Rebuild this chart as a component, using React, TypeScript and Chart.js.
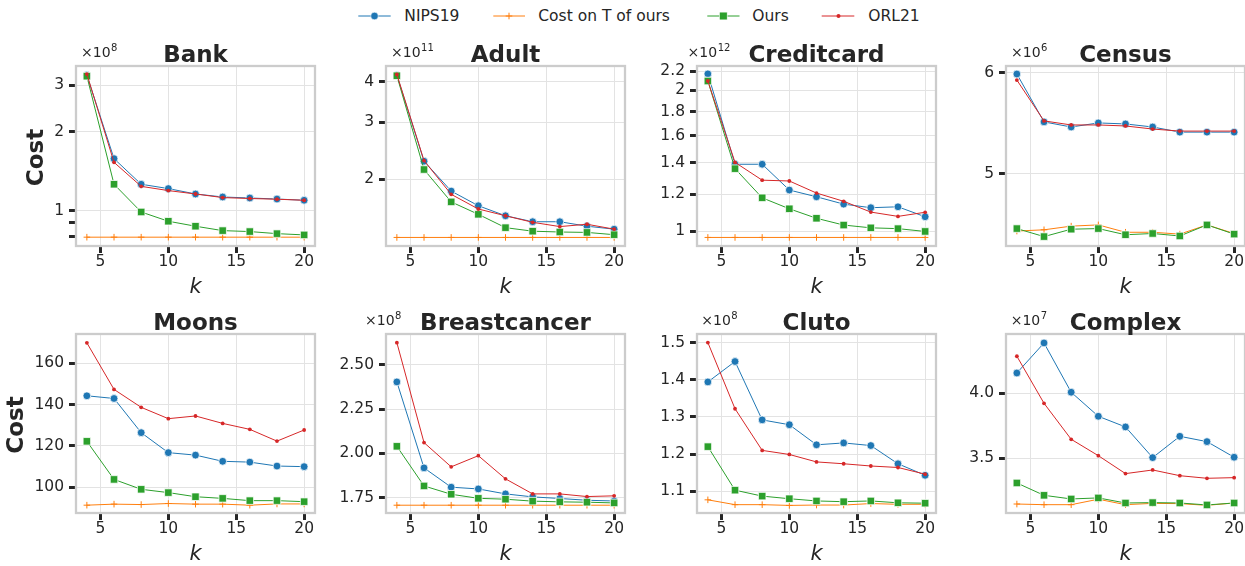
import React, { useEffect, useRef } from "react";
import { Chart, registerables } from "chart.js";

Chart.register(...registerables);

// ---------------- data ----------------
const K = [4, 6, 8, 10, 12, 14, 16, 18, 20];
const X_TICKS = [5, 10, 15, 20];
const SERIES_NAMES = ["NIPS19", "Cost on T of ours", "Ours", "ORL21"];

// Bank (x1e8)
const BANK_NIPS = [3.28, 1.58, 1.263, 1.216, 1.16, 1.13, 1.12, 1.11, 1.098];
const BANK_COST = [0.795, 0.795, 0.795, 0.795, 0.795, 0.795, 0.795, 0.795, 0.795];
const BANK_OURS = [3.25, 1.263, 0.991, 0.914, 0.875, 0.842, 0.835, 0.82, 0.811];
const BANK_ORL = [3.31, 1.53, 1.24, 1.195, 1.16, 1.124, 1.115, 1.108, 1.098];
const BANK_TICKS = [0.8, 0.9, 1, 2, 3];
const BANK_TICK_LABELS = ["", "", "1", "2", "3"];

// Adult (x1e11)
const ADULT_NIPS = [4.19, 2.27, 1.836, 1.654, 1.54, 1.476, 1.476, 1.43, 1.4];
const ADULT_COST = [1.32, 1.32, 1.32, 1.32, 1.32, 1.32, 1.32, 1.32, 1.32];
const ADULT_OURS = [4.17, 2.14, 1.7, 1.556, 1.415, 1.38, 1.372, 1.368, 1.346];
const ADULT_ORL = [4.21, 2.28, 1.794, 1.616, 1.54, 1.47, 1.426, 1.45, 1.4];
const ADULT_TICKS = [2, 3, 4];
const ADULT_TICK_LABELS = ["2", "3", "4"];

// Creditcard (x1e12)
const CREDIT_NIPS = [2.17, 1.39, 1.39, 1.224, 1.184, 1.142, 1.122, 1.127, 1.073];
const CREDIT_COST = [0.969, 0.969, 0.969, 0.969, 0.969, 0.969, 0.969, 0.969, 0.969];
const CREDIT_OURS = [2.095, 1.36, 1.178, 1.116, 1.065, 1.03, 1.016, 1.012, 0.998];
const CREDIT_ORL = [2.095, 1.403, 1.285, 1.28, 1.206, 1.158, 1.098, 1.075, 1.097];
const CREDIT_TICKS = [1, 1.2, 1.4, 1.6, 1.8, 2, 2.2];
const CREDIT_TICK_LABELS = ["1", "1.2", "1.4", "1.6", "1.8", "2", "2.2"];

// Census (x1e6)
const CENSUS_NIPS = [5.985, 5.49, 5.44, 5.48, 5.47, 5.44, 5.39, 5.39, 5.39];
const CENSUS_COST = [4.51, 4.52, 4.55, 4.56, 4.5, 4.5, 4.485, 4.56, 4.49];
const CENSUS_OURS = [4.53, 4.465, 4.525, 4.53, 4.48, 4.49, 4.47, 4.56, 4.485];
const CENSUS_ORL = [5.92, 5.5, 5.46, 5.46, 5.45, 5.42, 5.4, 5.4, 5.4];
const CENSUS_TICKS = [5, 6];
const CENSUS_TICK_LABELS = ["5", "6"];

// Moons
const MOONS_NIPS = [144.3, 143, 126.4, 116.7, 115.5, 112.5, 112.1, 110.2, 109.9];
const MOONS_COST = [91.2, 91.7, 91.5, 92.0, 91.7, 91.7, 91.2, 91.8, 91.8];
const MOONS_OURS = [122.2, 103.7, 98.9, 97.3, 95.3, 94.5, 93.4, 93.4, 92.9];
const MOONS_ORL = [170, 147.4, 138.7, 133.2, 134.5, 130.9, 128, 122.3, 127.7];
const MOONS_TICKS = [100, 120, 140, 160];
const MOONS_TICK_LABELS = ["100", "120", "140", "160"];

// Breastcancer (x1e8)
const BREAST_NIPS = [2.404, 1.918, 1.809, 1.799, 1.771, 1.754, 1.745, 1.735, 1.731];
const BREAST_COST = [1.707, 1.707, 1.707, 1.707, 1.707, 1.707, 1.707, 1.707, 1.707];
const BREAST_OURS = [2.04, 1.816, 1.769, 1.746, 1.741, 1.73, 1.726, 1.724, 1.72];
const BREAST_ORL = [2.626, 2.061, 1.924, 1.987, 1.856, 1.771, 1.771, 1.756, 1.76];
const BREAST_TICKS = [1.75, 2.0, 2.25, 2.5];
const BREAST_TICK_LABELS = ["1.75", "2.00", "2.25", "2.50"];

// Cluto (x1e8)
const CLUTO_NIPS = [1.394, 1.449, 1.292, 1.279, 1.225, 1.23, 1.223, 1.174, 1.143];
const CLUTO_COST = [1.077, 1.064, 1.064, 1.062, 1.063, 1.063, 1.067, 1.065, 1.065];
const CLUTO_OURS = [1.22, 1.103, 1.087, 1.08, 1.074, 1.072, 1.074, 1.069, 1.068];
const CLUTO_ORL = [1.5, 1.322, 1.21, 1.199, 1.179, 1.174, 1.168, 1.164, 1.146];
const CLUTO_TICKS = [1.1, 1.2, 1.3, 1.4, 1.5];
const CLUTO_TICK_LABELS = ["1.1", "1.2", "1.3", "1.4", "1.5"];

// Complex (x1e7)
const COMPLEX_NIPS = [4.156, 4.387, 4.008, 3.823, 3.741, 3.505, 3.669, 3.628, 3.508];
const COMPLEX_COST = [3.148, 3.143, 3.143, 3.185, 3.143, 3.153, 3.151, 3.138, 3.156];
const COMPLEX_OURS = [3.31, 3.215, 3.187, 3.195, 3.156, 3.159, 3.156, 3.141, 3.156];
const COMPLEX_ORL = [4.285, 3.923, 3.646, 3.52, 3.382, 3.41, 3.366, 3.346, 3.351];
const COMPLEX_TICKS = [3.5, 4.0];
const COMPLEX_TICK_LABELS = ["3.5", "4.0"];

type PanelDef = {
  title: string;
  exp: number | null;
  log: boolean;
  min: number;
  max: number;
  ticks: number[];
  labels: string[];
  series: number[][];
};

const PANELS: PanelDef[] = [
  { title: "Bank", exp: 8, log: true, min: 0.736, max: 3.553, ticks: BANK_TICKS, labels: BANK_TICK_LABELS, series: [BANK_NIPS, BANK_COST, BANK_OURS, BANK_ORL] },
  { title: "Adult", exp: 11, log: true, min: 1.242, max: 4.47, ticks: ADULT_TICKS, labels: ADULT_TICK_LABELS, series: [ADULT_NIPS, ADULT_COST, ADULT_OURS, ADULT_ORL] },
  { title: "Creditcard", exp: 12, log: true, min: 0.929, max: 2.256, ticks: CREDIT_TICKS, labels: CREDIT_TICK_LABELS, series: [CREDIT_NIPS, CREDIT_COST, CREDIT_OURS, CREDIT_ORL] },
  { title: "Census", exp: 6, log: true, min: 4.39, max: 6.072, ticks: CENSUS_TICKS, labels: CENSUS_TICK_LABELS, series: [CENSUS_NIPS, CENSUS_COST, CENSUS_OURS, CENSUS_ORL] },
  { title: "Moons", exp: null, log: false, min: 87.4, max: 174.3, ticks: MOONS_TICKS, labels: MOONS_TICK_LABELS, series: [MOONS_NIPS, MOONS_COST, MOONS_OURS, MOONS_ORL] },
  { title: "Breastcancer", exp: 8, log: false, min: 1.663, max: 2.675, ticks: BREAST_TICKS, labels: BREAST_TICK_LABELS, series: [BREAST_NIPS, BREAST_COST, BREAST_OURS, BREAST_ORL] },
  { title: "Cluto", exp: 8, log: false, min: 1.0416, max: 1.523, ticks: CLUTO_TICKS, labels: CLUTO_TICK_LABELS, series: [CLUTO_NIPS, CLUTO_COST, CLUTO_OURS, CLUTO_ORL] },
  { title: "Complex", exp: 7, log: false, min: 3.079, max: 4.456, ticks: COMPLEX_TICKS, labels: COMPLEX_TICK_LABELS, series: [COMPLEX_NIPS, COMPLEX_COST, COMPLEX_OURS, COMPLEX_ORL] },
];

// ---------------- layout / style ----------------
const FONT = "'DejaVu Sans', 'Liberation Sans', sans-serif";
const TEXT = "#262626";
const GRID = "#e3e3e3";
const SPINE = "#cccccc";
const COL_LEFT = [76, 386, 697, 1006];
const PLOT_W = 239;
const LEFT_SPACE = 76;
const CANVAS_W = 330;
const Y_AXIS_W = 50;
const X_AXIS_H = 40;
const ROWS = [
  { canvasTop: 0, h: 300, top: 66, bottom: 246, costX: 37.5 },
  { canvasTop: 268, h: 298, top: 334, bottom: 513, costX: 17.5 },
];
const OFFSET_DX = [5, 5, -9.4, 5, 0, -21, 4.3, 4.7];

const STYLES = [
  { color: "#1f77b4", pointStyle: "circle", radius: 3.9, pbw: 0.75, pbc: "#ffffff", order: 4 },
  { color: "#ff7f0e", pointStyle: "cross", radius: 3.3, pbw: 1, pbc: "#ff7f0e", order: 3 },
  { color: "#2ca02c", pointStyle: "rect", radius: 5.3, pbw: 0.75, pbc: "#ffffff", order: 2 },
  { color: "#d62728", pointStyle: "circle", radius: 1.9, pbw: 0, pbc: "#d62728", order: 1 },
];

function Panel({ idx }: { idx: number }) {
  const ref = useRef<HTMLCanvasElement | null>(null);
  const col = idx % 4;
  const rowIdx = Math.floor(idx / 4);
  const row = ROWS[rowIdx];
  const left = COL_LEFT[col] - LEFT_SPACE;

  useEffect(() => {
    const p = PANELS[idx];
    const padTop = row.top - row.canvasTop;
    const padBottom = row.h - (row.bottom - row.canvasTop) - X_AXIS_H;
    const padLeft = LEFT_SPACE - Y_AXIS_W;
    const padRight = CANVAS_W - LEFT_SPACE - PLOT_W;

    const decor = {
      id: "decor" + idx,
      afterDatasetsDraw(chart: any) {
        const ca = chart.chartArea;
        const ctx = chart.ctx as CanvasRenderingContext2D;
        ctx.save();
        ctx.strokeStyle = SPINE;
        ctx.lineWidth = 2.3;
        ctx.strokeRect(ca.left, ca.top, ca.right - ca.left, ca.bottom - ca.top);
        ctx.fillStyle = TEXT;
        const cx = (ca.left + ca.right) / 2;
        ctx.textAlign = "center";
        ctx.textBaseline = "alphabetic";
        ctx.font = `bold 23px ${FONT}`;
        ctx.fillText(p.title, cx, ca.top - 4.5);
        ctx.font = `italic 21px ${FONT}`;
        ctx.fillText("k", cx, ca.bottom + 47);
        if (p.exp !== null) {
          ctx.textAlign = "left";
          ctx.font = `14px ${FONT}`;
          const x0 = ca.left + OFFSET_DX[idx];
          const y0 = ca.top - 9.3;
          ctx.fillText("\u00d710", x0, y0);
          const w = ctx.measureText("\u00d710").width;
          ctx.font = `10px ${FONT}`;
          ctx.fillText(String(p.exp), x0 + w + 0.5, y0 - 5.5);
        }
        if (col === 0) {
          ctx.save();
          ctx.translate(row.costX, (ca.top + ca.bottom) / 2 + 1.5);
          ctx.rotate(-Math.PI / 2);
          ctx.font = `bold 23px ${FONT}`;
          ctx.textAlign = "center";
          ctx.textBaseline = "middle";
          ctx.fillText("Cost", 0, 0);
          ctx.restore();
        }
        ctx.restore();
      },
    };

    const datasets = p.series.map((vals, si) => {
      const s = STYLES[si];
      return {
        label: SERIES_NAMES[si],
        data: K.map((k, i) => ({ x: k, y: vals[i] })),
        borderColor: s.color,
        backgroundColor: s.color,
        borderWidth: 1,
        pointStyle: s.pointStyle,
        pointRadius: s.radius,
        pointBackgroundColor: s.color,
        pointBorderColor: s.pbc,
        pointBorderWidth: s.pbw,
        order: s.order,
        clip: 10,
        tension: 0,
      };
    });

    const chart = new Chart(ref.current as HTMLCanvasElement, {
      type: "line",
      data: { datasets } as any,
      plugins: [decor],
      options: {
        animation: false,
        responsive: false,
        events: [],
        layout: { padding: { left: padLeft, right: padRight, top: padTop, bottom: padBottom } },
        plugins: { legend: { display: false }, tooltip: { enabled: false }, title: { display: false } },
        scales: {
          x: {
            type: "linear",
            bounds: "data",
            min: 3.2,
            max: 20.8,
            afterBuildTicks: (scale: any) => {
              scale.ticks = X_TICKS.map((v) => ({ value: v }));
            },
            afterFit: (scale: any) => {
              scale.height = X_AXIS_H;
            },
            border: { display: false },
            grid: { color: GRID, lineWidth: 1, tickLength: 7, tickWidth: 3, tickColor: TEXT },
            ticks: {
              autoSkip: false,
              maxRotation: 0,
              padding: 0,
              color: TEXT,
              font: { family: FONT, size: 15.5 },
              callback: (v: any) => String(v),
            },
          },
          y: {
            type: p.log ? "logarithmic" : "linear",
            bounds: "data",
            min: p.min,
            max: p.max,
            afterBuildTicks: (scale: any) => {
              scale.ticks = p.ticks.map((v) => ({ value: v }));
            },
            afterFit: (scale: any) => {
              scale.width = Y_AXIS_W;
            },
            border: { display: false },
            grid: {
              color: (ctx: any) => (p.labels[ctx.index] ? GRID : "rgba(0,0,0,0)"),
              lineWidth: 1,
              tickLength: 7,
              tickWidth: 3,
              tickColor: TEXT,
            },
            ticks: {
              autoSkip: false,
              padding: 5,
              color: TEXT,
              font: { family: FONT, size: 15.5 },
              callback: (_v: any, i: number) => p.labels[i],
            },
          },
        },
      } as any,
    });
    return () => chart.destroy();
  }, []);

  return (
    <canvas
      ref={ref}
      width={CANVAS_W}
      height={row.h}
      style={{ position: "absolute", left, top: row.canvasTop, width: CANVAS_W, height: row.h }}
    />
  );
}

const LEGEND_POS = [
  { x1: 358.3, x2: 390.7, mx: 374.5, tx: 404.3 },
  { x1: 493.3, x2: 525, mx: 509, tx: 538.3 },
  { x1: 707.3, x2: 739.5, mx: 723.3, tx: 752.3 },
  { x1: 821.7, x2: 854.3, mx: 838.5, tx: 868.3 },
];
const LEGEND_Y = 16;

function Legend() {
  return (
    <div style={{ position: "absolute", left: 0, top: 0, width: 1245, height: 34 }}>
      <svg width={1245} height={34} style={{ position: "absolute", left: 0, top: 0 }}>
        {LEGEND_POS.map((p, i) => {
          const c = STYLES[i].color;
          return (
            <g key={i}>
              <line x1={p.x1} x2={p.x2} y1={LEGEND_Y} y2={LEGEND_Y} stroke={c} strokeWidth={1} />
              {i === 0 && <circle cx={p.mx} cy={LEGEND_Y} r={3.8} fill={c} stroke="#fff" strokeWidth={0.6} />}
              {i === 1 && (
                <g stroke={c} strokeWidth={1}>
                  <line x1={p.mx - 3.3} x2={p.mx + 3.3} y1={LEGEND_Y} y2={LEGEND_Y} />
                  <line x1={p.mx} x2={p.mx} y1={LEGEND_Y - 3.3} y2={LEGEND_Y + 3.3} />
                </g>
              )}
              {i === 2 && <rect x={p.mx - 3.9} y={LEGEND_Y - 3.9} width={7.8} height={7.8} fill={c} stroke="#fff" strokeWidth={0.6} />}
              {i === 3 && <circle cx={p.mx} cy={LEGEND_Y} r={2} fill={c} />}
            </g>
          );
        })}
      </svg>
      {LEGEND_POS.map((p, i) => (
        <span
          key={i}
          style={{
            position: "absolute",
            left: p.tx,
            top: 7,
            fontFamily: FONT,
            fontSize: "15.5px",
            lineHeight: "18px",
            color: TEXT,
            whiteSpace: "nowrap",
          }}
        >
          {SERIES_NAMES[i]}
        </span>
      ))}
    </div>
  );
}

export default function App() {
  return (
    <div
      style={{
        position: "absolute",
        left: 0,
        top: 0,
        width: 1245,
        height: 566,
        overflow: "hidden",
        background: "#ffffff",
      }}
    >
      <Legend />
      {PANELS.map((_, i) => (
        <Panel key={i} idx={i} />
      ))}
    </div>
  );
}
